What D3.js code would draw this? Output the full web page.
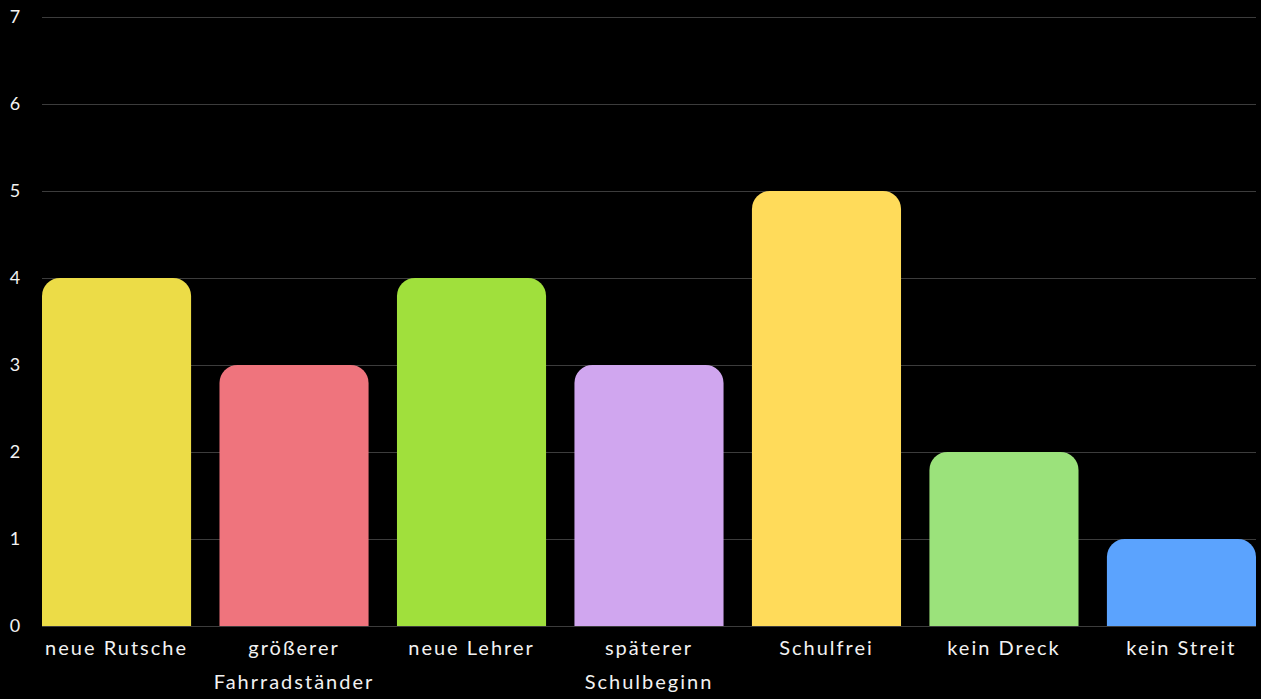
<!DOCTYPE html>
<html><head><meta charset="utf-8">
<script src="https://cdn.jsdelivr.net/npm/d3@7"></script>
<style>
html,body{margin:0;padding:0;background:#000;}
svg{display:block;}
text{font-family:"Lato","Open Sans",sans-serif;fill:#f2f2f2;}
</style></head>
<body>
<svg id="c" width="1261" height="699"></svg>
<script>
const categories = ["neue Rutsche", "größerer\nFahrradständer", "neue Lehrer", "späterer\nSchulbeginn", "Schulfrei", "kein Dreck", "kein Streit"];
const values = [4, 3, 4, 3, 5, 2, 1];
const colors = ["#ECDC47", "#EF747D", "#A0E03C", "#D0A6EF", "#FFDB5A", "#9BE27B", "#5BA3FE"];
const yTicks = [0, 1, 2, 3, 4, 5, 6, 7];

const W = 1261, H = 699;
const m = {left: 42, right: 5, top: 17, bottom: 73};
const svg = d3.select("#c");
const x = d3.scaleBand().domain(categories).range([m.left, W - m.right]).paddingInner(0.16).paddingOuter(0);
const y = d3.scaleLinear().domain([0, 7]).range([H - m.bottom, m.top]);

// gridlines
svg.append("g").selectAll("line").data(yTicks).join("line")
  .attr("x1", m.left).attr("x2", W - m.right)
  .attr("y1", d => Math.round(y(d)) + 0.5).attr("y2", d => Math.round(y(d)) + 0.5)
  .attr("stroke", "#3c3c3c").attr("stroke-width", 1);

// y labels
svg.append("g").selectAll("text").data(yTicks).join("text")
  .attr("x", 15).attr("y", d => y(d)).attr("dy", "0.35em")
  .attr("text-anchor", "middle").attr("font-size", 18).text(d => d);

// bars with rounded top corners
const r = 18;
function barPath(x0, y0, w, h) {
  const rr = Math.min(r, h, w / 2);
  return `M${x0},${y0 + h}V${y0 + rr}A${rr},${rr} 0 0 1 ${x0 + rr},${y0}H${x0 + w - rr}A${rr},${rr} 0 0 1 ${x0 + w},${y0 + rr}V${y0 + h}Z`;
}
svg.append("g").selectAll("path").data(categories).join("path")
  .attr("d", (c, i) => barPath(x(c), y(values[i]), x.bandwidth(), y(0) - y(values[i])))
  .attr("fill", (c, i) => colors[i]);

// x labels
const xl = svg.append("g").selectAll("text").data(categories).join("text")
  .attr("x", c => x(c) + x.bandwidth() / 2)
  .attr("y", 655).attr("text-anchor", "middle").attr("font-size", 20)
  .attr("letter-spacing", "2px");
xl.each(function(c) {
  const t = d3.select(this);
  c.split("\n").forEach((line, i) => {
    t.append("tspan").attr("x", x(c) + x.bandwidth() / 2).attr("dy", i === 0 ? 0 : 34).text(line);
  });
});
</script>
</body></html>
